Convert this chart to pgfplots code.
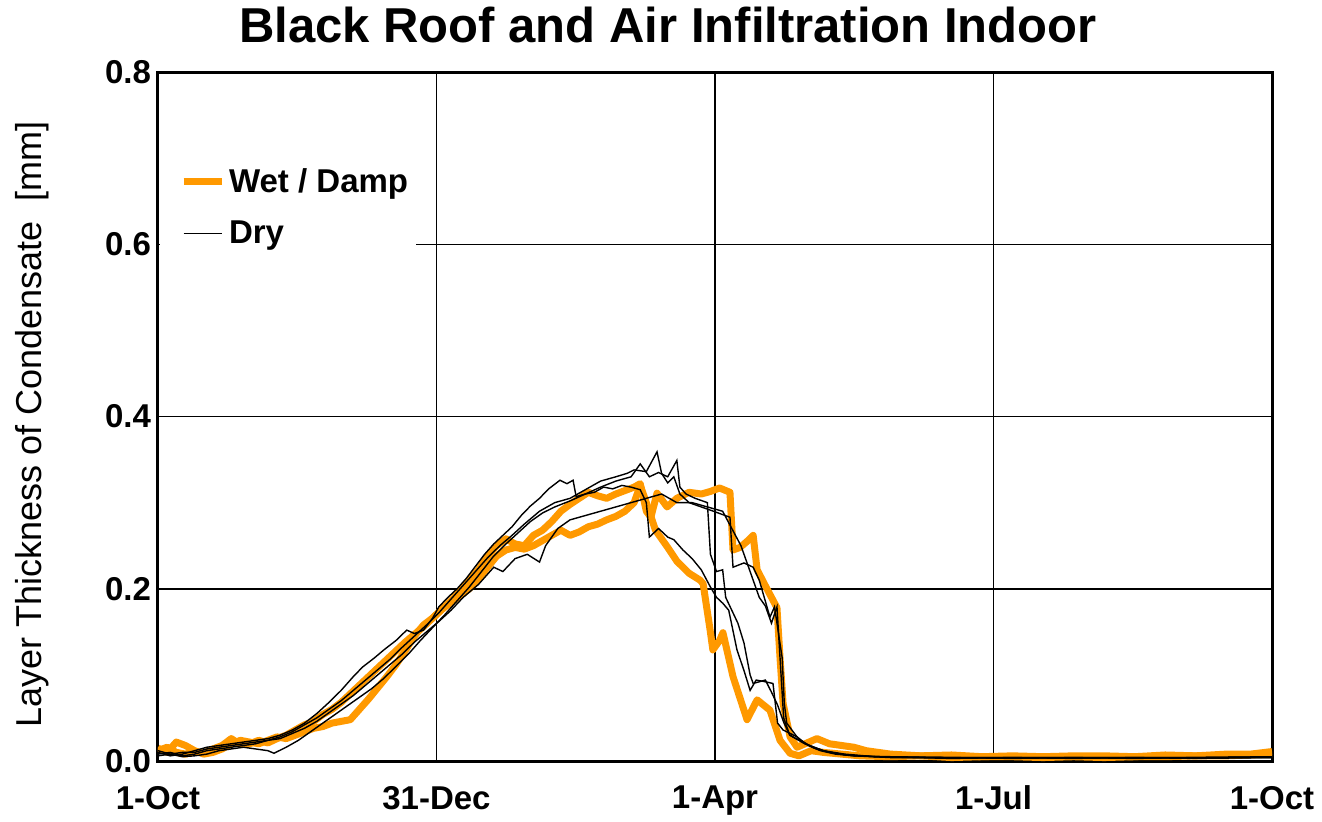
\documentclass[border=0pt]{standalone}
\usepackage{fontspec}
\setmainfont{Liberation Sans}
\usepackage{pgfplots}
\pgfplotsset{compat=1.18}
\definecolor{wet}{RGB}{255,153,0}
\begin{document}
\begin{tikzpicture}
\begin{axis}[
  at={(0,0)}, anchor=south west,
  scale only axis, width=557pt, height=344.5pt,
  xmin=0, xmax=365, ymin=0, ymax=0.8,
  xtick={0,91.25,182.5,273.75,365},
  xticklabels={1-Oct,31-Dec,1-Apr,1-Jul,1-Oct},
  ytick={0,0.2,0.4,0.6,0.8},
  /pgf/number format/assume math mode=true,
  yticklabel style={/pgf/number format/fixed, /pgf/number format/fixed zerofill, /pgf/number format/precision=1},
  grid=major, major grid style={black, line width=0.75pt},
  axis line style={line width=1.5pt},
  major tick length=0pt,
  tick label style={font=\bfseries\fontsize{16.5}{20}\selectfont},
  xticklabel style={yshift=-9pt},
  ylabel={Layer Thickness of Condensate\ \ [mm]},
  ylabel style={font=\fontsize{18}{22}\selectfont, at={(axis description cs:-0.113,0.488)}, anchor=center},
  legend style={at={(axis description cs:0.0015,0.878)}, anchor=north west, draw=none, fill=white,
    font=\bfseries\fontsize{16.5}{20}\selectfont, row sep=8.5pt, inner xsep=10pt, inner ysep=4pt},
  legend cell align=left,
  legend image code/.code={\draw[#1] (0pt,0pt) -- (19pt,0pt);},
]
% Wet / Damp A
\addplot[wet, line width=3.5pt, line join=round] coordinates {
(0,0.012)(3,0.016)(6,0.010)(9,0.008)(12,0.011)(15,0.009)(18,0.014)(21,0.018)(24,0.026)(27,0.019)
(30,0.020)(33,0.024)(36,0.021)(39,0.026)(42,0.030)(45,0.036)(48,0.042)(51,0.046)(54,0.054)(57,0.060)
(60,0.068)(63,0.078)(66,0.088)(69,0.098)(72,0.108)(75,0.118)(78,0.128)(81,0.138)(84,0.147)(87,0.156)
(90,0.166)(93,0.176)(96,0.186)(99,0.197)(102,0.210)(105,0.222)(108,0.238)(111,0.250)(114,0.258)(117,0.252)
(120,0.250)(123,0.262)(126,0.268)(129,0.278)(132,0.290)(135,0.298)(138,0.305)(141,0.312)(144,0.308)(147,0.305)
(150,0.310)(153,0.314)(156,0.318)(158,0.322)(160,0.290)(161.5,0.283)(163.5,0.311)(166.8,0.295)(170,0.305)(174,0.312)
(178,0.310)(181,0.313)(184,0.317)(187.4,0.312)(188.4,0.245)(190.7,0.248)(193,0.255)(195,0.262)(196.3,0.222)(199.5,0.200)
(202.8,0.178)(203.8,0.120)(204.8,0.067)(207.1,0.028)(209.4,0.016)(212,0.020)(215.9,0.026)(220,0.020)(224,0.018)(228,0.016)
(232,0.012)(236,0.010)(240,0.008)(250,0.006)(260,0.007)(270,0.005)(280,0.006)(290,0.005)(300,0.006)(310,0.006)
(320,0.005)(330,0.007)(340,0.006)(350,0.008)(358,0.008)(365,0.011)};
\addlegendentry{Wet / Damp\hspace*{-8pt}}
% Wet / Damp B
\addplot[wet, line width=3.5pt, line join=round, forget plot] coordinates {
(0,0.015)(3,0.010)(6,0.022)(9,0.018)(12,0.012)(15,0.008)(18,0.010)(21,0.014)(24,0.020)(27,0.024)
(30,0.022)(33,0.020)(36,0.024)(39,0.028)(42,0.026)(45,0.030)(48,0.034)(51,0.038)(54,0.040)(57,0.044)
(60,0.046)(63,0.048)(66,0.060)(69,0.072)(72,0.085)(75,0.098)(78,0.112)(81,0.128)(84,0.145)(87,0.158)
(90,0.166)(93,0.176)(96,0.184)(99,0.192)(102,0.200)(105,0.212)(108,0.225)(111,0.238)(114,0.245)(117,0.248)
(120,0.246)(123,0.250)(126,0.256)(129,0.262)(132,0.268)(135,0.262)(138,0.266)(141,0.272)(144,0.275)(147,0.280)
(150,0.284)(153,0.290)(156,0.300)(158,0.320)(160,0.300)(163,0.268)(167,0.248)(170,0.232)(174,0.218)(177.6,0.210)
(178.6,0.206)(180.9,0.152)(181.8,0.129)(184,0.140)(185.1,0.149)(188.4,0.098)(193,0.048)(196.3,0.071)(200.5,0.059)(203.8,0.024)
(207.1,0.009)(210,0.006)(214,0.012)(218,0.010)(224,0.008)(230,0.006)(240,0.005)(250,0.006)(260,0.004)(270,0.005)
(280,0.005)(290,0.004)(300,0.005)(310,0.004)(320,0.005)(330,0.005)(340,0.006)(350,0.006)(365,0.008)};
% Dry 1
\addplot[black, line width=0.7pt] coordinates {
(0,0.010)(4,0.006)(8,0.008)(12,0.012)(16,0.016)(20,0.018)(24,0.020)(28,0.022)(32,0.024)(36,0.026)
(40,0.030)(44,0.036)(48,0.044)(52,0.055)(56,0.068)(60,0.082)(64,0.098)(67,0.109)(71,0.120)(74,0.129)
(78,0.140)(81.5,0.152)(84,0.148)(87,0.152)(90,0.166)(92,0.179)(95,0.190)(98,0.200)(101,0.212)(104,0.226)
(107,0.240)(110,0.252)(113,0.262)(116,0.272)(119,0.285)(122,0.296)(125,0.305)(128,0.316)(131.7,0.326)(134,0.322)
(136,0.326)(137,0.307)(140,0.310)(143,0.312)(146,0.318)(149,0.316)(152,0.320)(155,0.318)(158,0.315)(160,0.300)
(161,0.260)(164,0.270)(167,0.260)(169,0.257)(172,0.245)(175,0.235)(178,0.222)(181,0.202)(183,0.190)(185.1,0.183)
(187,0.175)(189.7,0.129)(192,0.105)(194,0.082)(196,0.094)(199,0.092)(201.5,0.090)(203,0.044)(204.8,0.036)(209.4,0.028)
(213,0.018)(217,0.012)(222,0.008)(228,0.006)(240,0.004)(260,0.004)(280,0.003)(300,0.004)(320,0.004)(340,0.004)(365,0.005)};
\addlegendentry{Dry}
% Dry 2
\addplot[black, line width=0.7pt, forget plot] coordinates {
(0,0.008)(4,0.010)(8,0.006)(12,0.008)(16,0.012)(20,0.014)(24,0.016)(28,0.018)(32,0.020)(36,0.024)
(40,0.028)(44,0.034)(48,0.042)(52,0.050)(56,0.060)(60,0.070)(64,0.082)(68,0.094)(72,0.106)(76,0.118)
(80,0.132)(84,0.145)(88,0.158)(92,0.172)(96,0.188)(100,0.204)(104,0.220)(108,0.236)(112,0.250)(116,0.262)
(120,0.275)(125,0.290)(130,0.300)(135,0.305)(140,0.315)(145,0.325)(150,0.330)(153.7,0.334)(156,0.338)(160,0.336)
(163.5,0.359)(165,0.334)(167,0.323)(169,0.330)(171,0.310)(174,0.300)(178,0.295)(182,0.290)(187.4,0.283)(188.4,0.225)
(192,0.230)(195,0.225)(197,0.210)(200.5,0.167)(202,0.179)(204.5,0.120)(205.2,0.067)(206,0.044)(210,0.025)(215,0.015)
(220,0.010)(228,0.006)(240,0.005)(260,0.004)(280,0.004)(300,0.003)(320,0.004)(340,0.004)(365,0.004)};
% Dry 3
\addplot[black, line width=0.7pt, forget plot] coordinates {
(0,0.006)(4,0.008)(8,0.005)(12,0.006)(16,0.008)(20,0.012)(24,0.014)(28,0.016)(32,0.014)(36,0.012)
(38,0.009)(42,0.016)(46,0.024)(50,0.034)(54,0.044)(58,0.054)(62,0.064)(66,0.074)(70,0.084)(74,0.096)
(78,0.110)(82,0.124)(86,0.140)(90,0.155)(94,0.170)(98,0.186)(102,0.202)(106,0.220)(110,0.238)(114,0.252)
(118,0.265)(122,0.278)(126,0.288)(130,0.295)(135,0.302)(140,0.310)(145,0.318)(150,0.325)(155,0.330)(158,0.345)
(161,0.330)(164,0.335)(167,0.330)(170,0.349)(171,0.318)(173,0.310)(176,0.305)(180,0.300)(181,0.240)(183,0.220)
(185,0.222)(186,0.190)(188,0.175)(190,0.160)(192,0.137)(194,0.100)(195,0.090)(199,0.094)(201,0.080)(203,0.065)
(205,0.045)(207,0.030)(212,0.020)(218,0.012)(225,0.008)(235,0.005)(260,0.004)(280,0.004)(300,0.004)(320,0.003)(340,0.004)(365,0.005)};
% Dry 4 (lagging)
\addplot[black, line width=0.7pt, forget plot] coordinates {
(0,0.012)(4,0.008)(8,0.010)(12,0.010)(16,0.014)(20,0.016)(24,0.018)(28,0.020)(32,0.022)(36,0.024)
(40,0.026)(44,0.032)(48,0.038)(52,0.046)(56,0.056)(60,0.066)(64,0.076)(68,0.088)(72,0.100)(76,0.112)
(80,0.124)(84,0.138)(88,0.150)(92,0.162)(96,0.175)(100,0.190)(105,0.205)(110,0.225)(113,0.220)(117,0.235)
(121,0.240)(125,0.231)(127,0.250)(131,0.270)(135,0.280)(140,0.285)(145,0.290)(150,0.295)(155,0.300)(160,0.305)
(165,0.310)(170,0.300)(175,0.300)(180,0.295)(185,0.290)(188,0.270)(191,0.250)(194,0.220)(197,0.190)(199,0.180)
(201,0.160)(202.8,0.179)(203.8,0.120)(205,0.050)(207,0.030)(212,0.020)(218,0.012)(225,0.007)(235,0.005)(260,0.003)
(280,0.004)(300,0.004)(320,0.004)(340,0.003)(365,0.004)};
\end{axis}
\node[font=\bfseries\fontsize{24.5}{28}\selectfont] at (255pt,368pt) {Black Roof and Air Infiltration Indoor};
\pgfresetboundingbox
\path (-79pt,-30pt) rectangle (582pt,380.5pt);
\end{tikzpicture}
\end{document}
